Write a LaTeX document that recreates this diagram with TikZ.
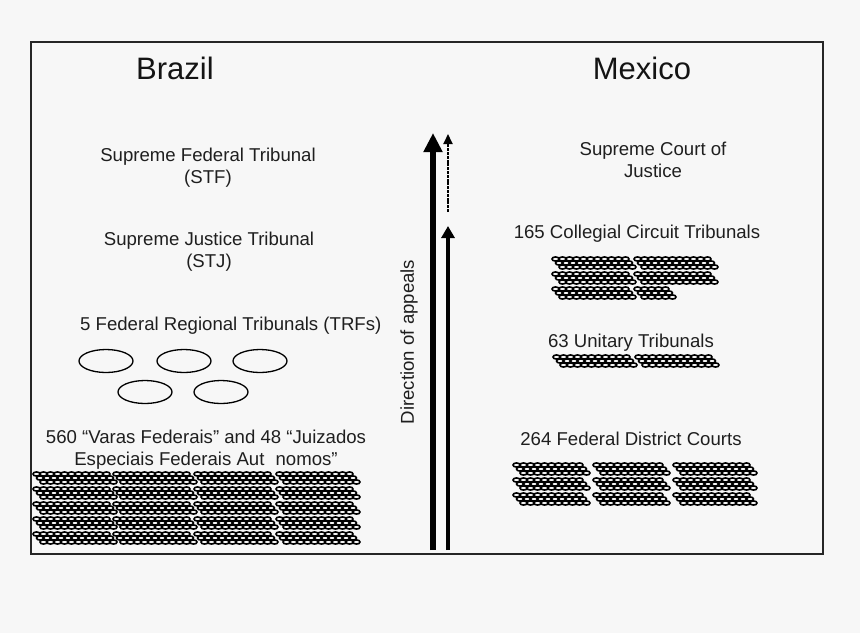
\documentclass[tikz,border=0pt]{standalone}
\usepackage{fontspec}
\setmainfont{Liberation Sans}
\usetikzlibrary{arrows.meta}
\definecolor{bgc}{HTML}{F7F7F7}
\tikzset{
  txt/.style={inner sep=0pt, align=center, font=\fontsize{18.6}{22}\selectfont, text=black!88},
  ttl/.style={inner sep=0pt, font=\fontsize{31}{34}\selectfont, text=black!92},
  oval/.style={draw=black, line width=1.3pt},
  blobline/.style={draw=black, line width=1.6pt},
  pics/blobbar/.style={code={
    \foreach \r in {0,1,2}{
      \foreach \i in {1,...,#1}{
        \draw[blobline] ({\i*7-3.5+\r*3.5},{\r*4+2}) ellipse (3.5 and 2.1);
      }
    }
  }},
}
\begin{document}
\begin{tikzpicture}[x=1pt,y=-1pt]
\fill[bgc] (0,0) rectangle (860,633);
\useasboundingbox (0,0) rectangle (860,633);
\draw[line width=2pt, black!85] (31,42) rectangle (823,554);

% titles
\node[ttl] (brazil) at (175,68) {Brazil};
\node[ttl] (mexico) at (642,68) {Mexico};

% Brazil
\node[txt] (stf) at (208,168) {Supreme Federal Tribunal\\(STF)};
\node[txt] (stj) at (209,252) {Supreme Justice Tribunal\\(STJ)};
\node[txt, anchor=west] (trf) at (80,326) {5 Federal Regional Tribunals (TRFs)};
\foreach \cx/\cy [count=\k] in {106/361,184/361,260/361,145/392,221/392}{
  \draw[oval] (\cx,\cy) ellipse (27 and 11.5);
}
\node[txt] (varas) at (206,450) {560 “Varas Federais” and 48 “Juizados\\Especiais Federais Aut\hspace{0.6em}nomos”};
\foreach \ry in {472,487,502,517,532}{
  \pic at (33,\ry) {blobbar=11};
  \pic at (113,\ry) {blobbar=11};
  \pic at (194,\ry) {blobbar=11};
  \pic at (276,\ry) {blobbar=11};
}

% arrows
\coordinate (a1s) at (433,550);
\coordinate (a1e) at (433,133);
\coordinate (a2s) at (448,550);
\coordinate (a2e) at (448,226);
\coordinate (a3s) at (448,212);
\coordinate (a3e) at (448,134);
\draw[line width=6.5pt, -{Triangle[length=19pt,width=18pt]}] (a1s) -- (a1e);
\draw[line width=4.5pt, -{Triangle[length=12pt,width=13pt]}] (a2s) -- (a2e);
\draw[line width=1.8pt, dash pattern=on 3pt off 0.8pt, -{Triangle[length=10pt,width=9pt]}] (a3s) -- (a3e);
\node[txt, rotate=90] (dir) at (409,342) {Direction of appeals};

% Mexico
\node[txt] (scj) at (653,160) {Supreme Court of\\Justice};
\node[txt] (cct) at (637,234) {165 Collegial Circuit Tribunals};
\foreach \ry in {257,272,287}{
  \pic at (552,\ry) {blobbar=11};
}
\pic at (634,257) {blobbar=11};
\pic at (634,272) {blobbar=11};
\pic at (634,287) {blobbar=5};
\node[txt] (ut) at (631,343) {63 Unitary Tribunals};
\pic at (553,355) {blobbar=11};
\pic at (635,355) {blobbar=11};
\node[txt] (fdc) at (631,439) {264 Federal District Courts};
\foreach \ry in {463,478,493}{
  \pic at (513,\ry) {blobbar=10};
  \pic at (593,\ry) {blobbar=10};
  \pic at (673,\ry) {blobbar=11};
}
\end{tikzpicture}
\end{document}
